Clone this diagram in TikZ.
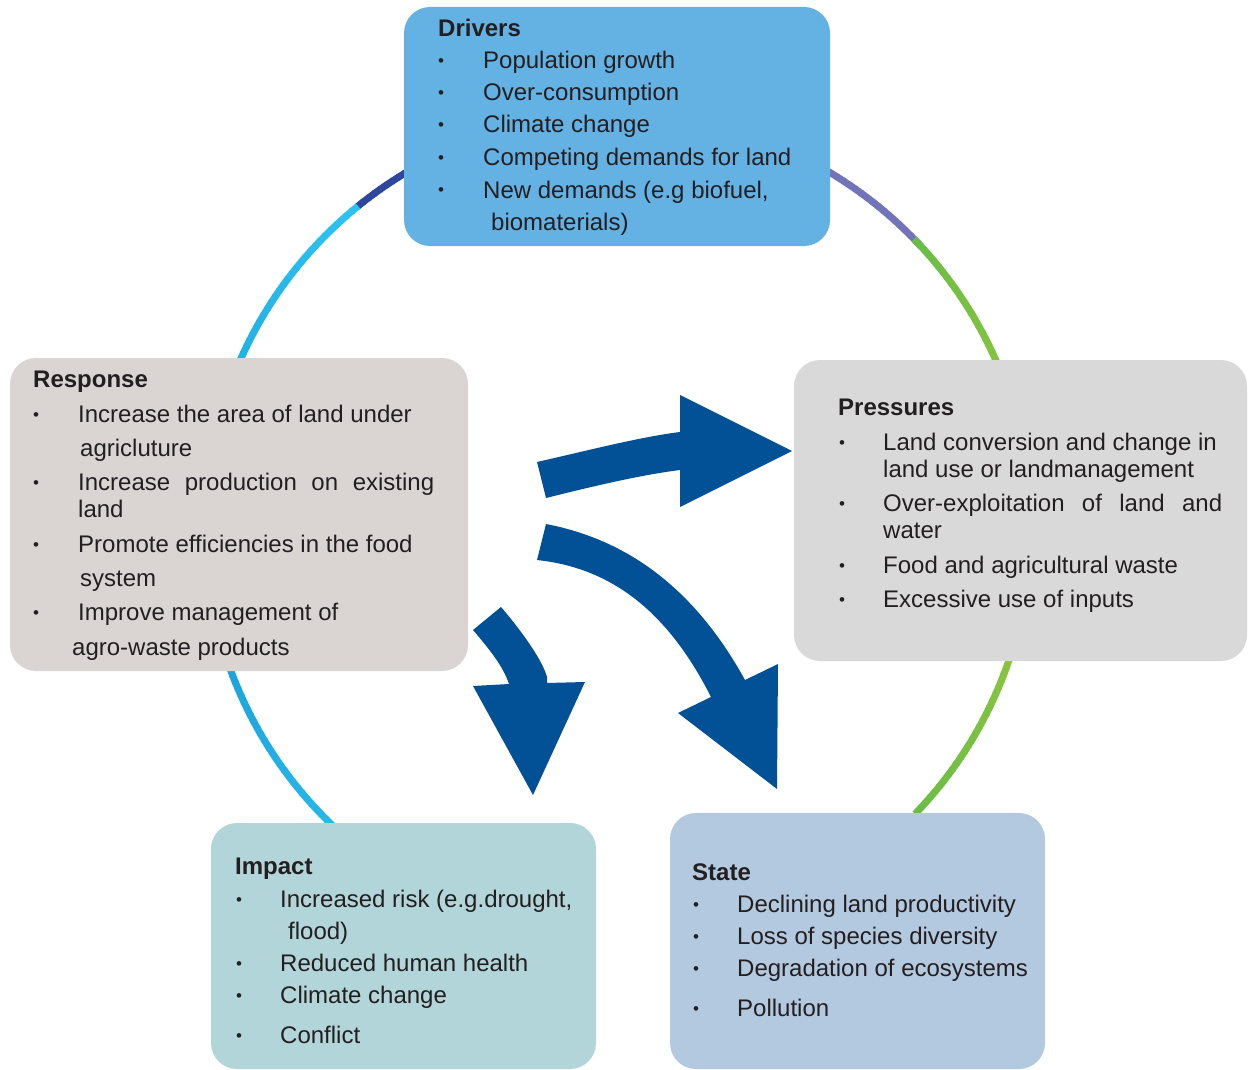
\documentclass[tikz,border=0pt]{standalone}
\usepackage{fontspec}
\setmainfont{Liberation Sans}
\usetikzlibrary{calc}
\definecolor{txt}{HTML}{231F20}
\definecolor{drvfill}{HTML}{64B1E4}
\definecolor{resfill}{HTML}{DAD5D2}
\definecolor{prsfill}{HTML}{D9D9D9}
\definecolor{impfill}{HTML}{B2D5D9}
\definecolor{stafill}{HTML}{B3C9DF}
\definecolor{arrowblue}{HTML}{025095}
\definecolor{arcdark}{HTML}{2E479C}
\definecolor{arcpurple}{HTML}{7174B8}
\definecolor{cyanA}{HTML}{2AC3F0}
\definecolor{cyanB}{HTML}{1A9BD7}
\definecolor{cyanC}{HTML}{27B9EB}
\definecolor{greenA}{HTML}{6BBD45}
\definecolor{greenB}{HTML}{8DC63F}
\begin{document}
\begin{tikzpicture}[x=1pt,y=-1pt,
  panel/.style={rounded corners=26pt},
  ln/.style={anchor=base west,inner sep=0pt,text=txt,font=\fontsize{24}{28}\selectfont},
  hd/.style={anchor=base west,inner sep=0pt,text=txt,font=\fontsize{24}{28}\selectfont\bfseries},
  bl/.style={anchor=base,inner sep=0pt,text=txt,font=\fontsize{17}{18}\selectfont},
  arrowshape/.style={fill=arrowblue,draw=none},
  ring/.style={line width=7pt}
]
\useasboundingbox (0,0) rectangle (1248,1070);
\clip (0,0) rectangle (1248,1070);
% ring
\coordinate (ctr) at (618,527);
\def\R{413}
\foreach \a in {90,...,128}{
  \draw[arcdark,ring] ($(ctr)+({cos(\a)*\R},{-sin(\a)*\R})$) arc[start angle=-\a,end angle=-\a-1.2,radius=\R];
}
\foreach \a in {129,...,225}{
  \pgfmathsetmacro{\p}{\a<190 ? 100-(\a-129)/61*100 : (\a-190)/36*100}
  \ifdim \a pt<190pt
    \draw[cyanA!\p!cyanB,ring] ($(ctr)+({cos(\a)*\R},{-sin(\a)*\R})$) arc[start angle=-\a,end angle=-\a-1.2,radius=\R];
  \else
    \draw[cyanC!\p!cyanB,ring] ($(ctr)+({cos(\a)*\R},{-sin(\a)*\R})$) arc[start angle=-\a,end angle=-\a-1.2,radius=\R];
  \fi
}
\foreach \a in {44,...,90}{
  \draw[arcpurple,ring] ($(ctr)+({cos(\a)*\R},{-sin(\a)*\R})$) arc[start angle=-\a,end angle=-\a+1.2,radius=\R];
}
\foreach \a in {-44,...,43}{
  \pgfmathsetmacro{\p}{\a>15 ? (\a-15)/28*100 : (\a<-15 ? (-15-\a)/29*100 : 0)}
  \draw[greenA!\p!greenB,ring] ($(ctr)+({cos(\a)*\R},{-sin(\a)*\R})$) arc[start angle=-\a,end angle=-\a-1.2,radius=\R];
}
% panels
\fill[drvfill,panel] (404,7) rectangle (830,246);
\fill[resfill,panel] (10,358) rectangle (468,671);
\fill[prsfill,panel] (794,360) rectangle (1247,661);
\fill[impfill,panel] (211,823) rectangle (596,1069);
\fill[stafill,panel] (670,813) rectangle (1045,1069);
\node[draw=none,inner sep=0pt] (drivers) at (617,126) {};
\node[draw=none,inner sep=0pt] (response) at (239,514) {};
\node[draw=none,inner sep=0pt] (pressures) at (1020,510) {};
\node[draw=none,inner sep=0pt] (impact) at (403,946) {};
\node[draw=none,inner sep=0pt] (state) at (857,941) {};
% arrows
\fill[arrowshape] (537,462) .. controls (590,450) and (640,437) .. (680,432)
  -- (680,395) -- (792,451) -- (680,507) -- (680,470)
  .. controls (640,475) and (590,487) .. (546,498) -- cycle;
\fill[arrowshape] (546,524) .. controls (640,542) and (702,602) .. (745,680)
  -- (778,664) -- (777,789) -- (678,713) -- (711,697)
  .. controls (668,612) and (612,568) .. (537,560) -- cycle;
\fill[arrowshape] (501,607) .. controls (525,635) and (543,662) .. (547,677)
  -- (547,683) -- (585,682) -- (533,795) -- (473,686) -- (509,684)
  .. controls (503,666) and (490,650) .. (473,630) -- cycle;
% Drivers text
\node[hd] (d0) at (438,37) {Drivers};
\foreach \y/\t [count=\i] in {69/Population growth,101/Over-consumption,133/Climate change,166/Competing demands for land,198/{New demands (e.g biofuel,}}{
  \node[bl] (db\i) at (441,\y-2) {\textbullet};
  \node[ln] (d\i) at (483,\y) {\t};
}
\node[ln] (d6) at (491,230) {biomaterials)};
% Response text
\node[hd] (r0) at (33,387) {Response};
\node[bl] (rb1) at (36,420) {\textbullet};
\node[ln] (r1) at (78,422) {Increase the area of land under};
\node[ln] (r2) at (80,456) {agricluture};
\node[bl] (rb2) at (36,488) {\textbullet};
\node[ln] (r3) at (78,490) {\makebox[356pt][s]{Increase production on existing}};
\node[ln] (r4) at (78,517) {land};
\node[bl] (rb3) at (36,550) {\textbullet};
\node[ln] (r5) at (78,552) {Promote efficiencies in the food};
\node[ln] (r6) at (80,586) {system};
\node[bl] (rb4) at (36,618) {\textbullet};
\node[ln] (r7) at (78,620) {Improve management of};
\node[ln] (r8) at (72,655) {agro-waste products};
% Pressures text
\node[hd] (p0) at (838,415) {Pressures};
\node[bl] (pb1) at (842,448) {\textbullet};
\node[ln] (p1) at (883,450) {Land conversion and change in};
\node[ln] (p2) at (883,477) {land use or landmanagement};
\node[bl] (pb2) at (842,509) {\textbullet};
\node[ln] (p3) at (883,511) {\makebox[339pt][s]{Over-exploitation of land and}};
\node[ln] (p4) at (883,538) {water};
\node[bl] (pb3) at (842,571) {\textbullet};
\node[ln] (p5) at (883,573) {Food and agricultural waste};
\node[bl] (pb4) at (842,605) {\textbullet};
\node[ln] (p6) at (883,607) {Excessive use of inputs};
% Impact text
\node[hd] (i0) at (235,874) {Impact};
\node[bl] (ib1) at (239,905) {\textbullet};
\node[ln] (i1) at (280,907) {Increased risk (e.g.drought,};
\node[ln] (i2) at (288,939) {flood)};
\node[bl] (ib2) at (239,969) {\textbullet};
\node[ln] (i3) at (280,971) {Reduced human health};
\node[bl] (ib3) at (239,1001) {\textbullet};
\node[ln] (i4) at (280,1003) {Climate change};
\node[bl] (ib4) at (239,1041) {\textbullet};
\node[ln] (i5) at (280,1043) {Conflict};
% State text
\node[hd] (s0) at (692,880) {State};
\node[bl] (sb1) at (696,910) {\textbullet};
\node[ln] (s1) at (737,912) {Declining land productivity};
\node[bl] (sb2) at (696,942) {\textbullet};
\node[ln] (s2) at (737,944) {Loss of species diversity};
\node[bl] (sb3) at (696,974) {\textbullet};
\node[ln] (s3) at (737,976) {Degradation of ecosystems};
\node[bl] (sb4) at (696,1014) {\textbullet};
\node[ln] (s4) at (737,1016) {Pollution};
\end{tikzpicture}
\end{document}
